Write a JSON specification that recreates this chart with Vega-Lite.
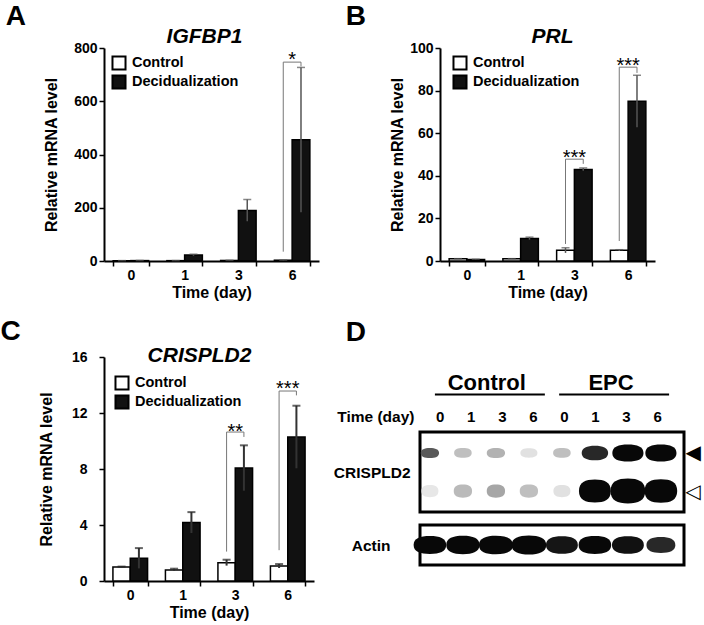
{
  "$schema": "https://vega.github.io/schema/vega-lite/v6.json",
  "background": "white",
  "padding": {"left": 0, "top": 3, "right": 2, "bottom": 2},
  "datasets": {
    "A_bars": [
      {"time": "0", "group": "Control", "mean": 1, "lo": 0.5, "hi": 1.5},
      {"time": "0", "group": "Decidualization", "mean": 1.5, "lo": 1, "hi": 2},
      {"time": "1", "group": "Control", "mean": 1.3, "lo": 1, "hi": 1.6},
      {"time": "1", "group": "Decidualization", "mean": 22.5, "lo": 19.5, "hi": 25.5},
      {"time": "3", "group": "Control", "mean": 2, "lo": 1.5, "hi": 2.5},
      {"time": "3", "group": "Decidualization", "mean": 190, "lo": 149, "hi": 231},
      {"time": "6", "group": "Control", "mean": 3, "lo": 2.5, "hi": 3.5},
      {"time": "6", "group": "Decidualization", "mean": 455, "lo": 183, "hi": 727}
    ],
    "A_brk": [
      {"id": "a6", "k": 1, "time": "6", "group": "Control", "v": 35},
      {"id": "a6", "k": 2, "time": "6", "group": "Control", "v": 747},
      {"id": "a6", "k": 3, "time": "6", "group": "Decidualization", "v": 747},
      {"id": "a6", "k": 4, "time": "6", "group": "Decidualization", "v": 731}
    ],
    "A_star": [{"time": "6", "v": 772, "label": "*"}],
    "B_bars": [
      {"time": "0", "group": "Control", "mean": 1, "lo": 0.9, "hi": 1.1},
      {"time": "0", "group": "Decidualization", "mean": 0.7, "lo": 0.6, "hi": 0.8},
      {"time": "1", "group": "Control", "mean": 1, "lo": 0.9, "hi": 1.1},
      {"time": "1", "group": "Decidualization", "mean": 10.6, "lo": 10, "hi": 11.2},
      {"time": "3", "group": "Control", "mean": 5, "lo": 3.8, "hi": 6.2},
      {"time": "3", "group": "Decidualization", "mean": 43, "lo": 42.4, "hi": 43.7},
      {"time": "6", "group": "Control", "mean": 5, "lo": 4.7, "hi": 5.3},
      {"time": "6", "group": "Decidualization", "mean": 75, "lo": 62.8, "hi": 87.2}
    ],
    "B_brk": [
      {"id": "b3", "k": 1, "time": "3", "group": "Control", "v": 8},
      {"id": "b3", "k": 2, "time": "3", "group": "Control", "v": 47.8},
      {"id": "b3", "k": 3, "time": "3", "group": "Decidualization", "v": 47.8},
      {"id": "b3", "k": 4, "time": "3", "group": "Decidualization", "v": 45.6},
      {"id": "b6", "k": 1, "time": "6", "group": "Control", "v": 9.4},
      {"id": "b6", "k": 2, "time": "6", "group": "Control", "v": 91},
      {"id": "b6", "k": 3, "time": "6", "group": "Decidualization", "v": 91},
      {"id": "b6", "k": 4, "time": "6", "group": "Decidualization", "v": 88.3}
    ],
    "B_star": [
      {"time": "3", "v": 50.8, "label": "***"},
      {"time": "6", "v": 93.8, "label": "***"}
    ],
    "C_bars": [
      {"time": "0", "group": "Control", "mean": 1.0, "lo": 0.97, "hi": 1.03},
      {"time": "0", "group": "Decidualization", "mean": 1.62, "lo": 0.9, "hi": 2.35},
      {"time": "1", "group": "Control", "mean": 0.79, "lo": 0.72, "hi": 0.88},
      {"time": "1", "group": "Decidualization", "mean": 4.17, "lo": 3.43, "hi": 4.92},
      {"time": "3", "group": "Control", "mean": 1.31, "lo": 1.1, "hi": 1.52},
      {"time": "3", "group": "Decidualization", "mean": 8.07, "lo": 6.45, "hi": 9.69},
      {"time": "6", "group": "Control", "mean": 1.07, "lo": 0.93, "hi": 1.21},
      {"time": "6", "group": "Decidualization", "mean": 10.29, "lo": 8.05, "hi": 12.52}
    ],
    "C_brk": [
      {"id": "c3", "k": 1, "time": "3", "group": "Control", "v": 2.1},
      {"id": "c3", "k": 2, "time": "3", "group": "Control", "v": 10.64},
      {"id": "c3", "k": 3, "time": "3", "group": "Decidualization", "v": 10.64},
      {"id": "c3", "k": 4, "time": "3", "group": "Decidualization", "v": 10.29},
      {"id": "c6", "k": 1, "time": "6", "group": "Control", "v": 2.2},
      {"id": "c6", "k": 2, "time": "6", "group": "Control", "v": 13.57},
      {"id": "c6", "k": 3, "time": "6", "group": "Decidualization", "v": 13.57},
      {"id": "c6", "k": 4, "time": "6", "group": "Decidualization", "v": 13.26}
    ],
    "C_star": [
      {"time": "3", "v": 11.0, "label": "**"},
      {"time": "6", "v": 14.1, "label": "***"}
    ],
    "D_groups": [
      {"lane": "C1", "row": "line", "label": "Control"},
      {"lane": "E1", "row": "line", "label": "EPC"}
    ],
    "D_lines": [
      {"start": "C0", "end": "C6", "row": "line"},
      {"start": "E0", "end": "E6", "row": "line"}
    ],
    "D_lanes": [
      {"lane": "C0", "row": "time", "day": "0"},
      {"lane": "C1", "row": "time", "day": "1"},
      {"lane": "C3", "row": "time", "day": "3"},
      {"lane": "C6", "row": "time", "day": "6"},
      {"lane": "E0", "row": "time", "day": "0"},
      {"lane": "E1", "row": "time", "day": "1"},
      {"lane": "E3", "row": "time", "day": "3"},
      {"lane": "E6", "row": "time", "day": "6"}
    ],
    "D_blot": [
      {"lane": "C0", "row": "upper", "signal": 0.62, "spread": 0.05},
      {"lane": "C1", "row": "upper", "signal": 0.2, "spread": 0.02},
      {"lane": "C3", "row": "upper", "signal": 0.25, "spread": 0.05},
      {"lane": "C6", "row": "upper", "signal": 0.07, "spread": 0.0},
      {"lane": "E0", "row": "upper", "signal": 0.2, "spread": 0.02},
      {"lane": "E1", "row": "upper", "signal": 0.85, "spread": 0.45},
      {"lane": "E3", "row": "upper", "signal": 1.0, "spread": 0.75},
      {"lane": "E6", "row": "upper", "signal": 1.0, "spread": 0.75},
      {"lane": "C0", "row": "lower", "signal": 0.05, "spread": 0.0},
      {"lane": "C1", "row": "lower", "signal": 0.22, "spread": 0.05},
      {"lane": "C3", "row": "lower", "signal": 0.3, "spread": 0.05},
      {"lane": "C6", "row": "lower", "signal": 0.2, "spread": 0.05},
      {"lane": "E0", "row": "lower", "signal": 0.07, "spread": 0.0},
      {"lane": "E1", "row": "lower", "signal": 1.0, "spread": 0.8},
      {"lane": "E3", "row": "lower", "signal": 1.0, "spread": 1.0},
      {"lane": "E6", "row": "lower", "signal": 1.0, "spread": 0.85}
    ],
    "D_actin": [
      {"lane": "C0", "row": "actin", "signal": 1.0, "spread": 0.85},
      {"lane": "C1", "row": "actin", "signal": 1.0, "spread": 0.9},
      {"lane": "C3", "row": "actin", "signal": 1.0, "spread": 0.95},
      {"lane": "C6", "row": "actin", "signal": 1.0, "spread": 1.0},
      {"lane": "E0", "row": "actin", "signal": 0.95, "spread": 0.8},
      {"lane": "E1", "row": "actin", "signal": 1.0, "spread": 0.85},
      {"lane": "E3", "row": "actin", "signal": 0.97, "spread": 0.8},
      {"lane": "E6", "row": "actin", "signal": 0.85, "spread": 0.6}
    ],
    "D_arrows": [
      {"row": "upper"},
      {"row": "lower"}
    ]
  },
  "vconcat": [
    {
      "hconcat": [
        {
          "width": 215, "height": 213,
          "title": {"text": "A", "dx": -38, "offset": -6},
          "layer": [
            {
              "data": {"name": "A_bars"},
              "mark": {"type": "bar", "stroke": "black", "strokeWidth": 1.5},
              "encoding": {
                "x": {"field": "time", "type": "nominal", "scale": {"domain": ["0", "1", "3", "6"], "paddingInner": 0.34, "paddingOuter": 0.17}, "axis": {"orient": "bottom", "title": "Time (day)", "labelAngle": 0, "tickBand": "extent", "labelPadding": 2, "titlePadding": 2}},
                "xOffset": {"field": "group", "type": "nominal", "scale": {"domain": ["Control", "Decidualization"], "paddingInner": 0, "paddingOuter": 0}},
                "y": {"field": "mean", "type": "quantitative", "title": "Relative mRNA level", "scale": {"domain": [0, 800], "nice": false}, "axis": {"values": [0, 200, 400, 600, 800], "labelPadding": 2, "titlePadding": 14}},
                "fill": {"field": "group", "type": "nominal", "scale": {"domain": ["Control", "Decidualization"], "range": ["#ffffff", "#111111"]}, "legend": {"title": null, "legendX": 7, "legendY": 7}}
              }
            },
            {
              "data": {"name": "A_bars"},
              "mark": {"type": "rule", "color": "#555555", "strokeWidth": 1.5},
              "encoding": {
                "x": {"field": "time", "type": "nominal", "axis": null},
                "xOffset": {"field": "group", "type": "nominal"},
                "y": {"field": "lo", "type": "quantitative", "title": "Relative mRNA level"},
                "y2": {"field": "hi"}
              }
            },
            {
              "data": {"name": "A_bars"},
              "mark": {"type": "tick", "color": "#555555", "thickness": 1.5, "size": 8, "orient": "horizontal"},
              "encoding": {
                "x": {"field": "time", "type": "nominal", "axis": null},
                "xOffset": {"field": "group", "type": "nominal"},
                "y": {"field": "hi", "type": "quantitative", "title": "Relative mRNA level"}
              }
            },
            {
              "data": {"name": "A_brk"},
              "mark": {"type": "line", "color": "#777777", "strokeWidth": 1},
              "encoding": {
                "x": {"field": "time", "type": "nominal", "axis": null},
                "xOffset": {"field": "group", "type": "nominal"},
                "y": {"field": "v", "type": "quantitative", "title": "Relative mRNA level"},
                "detail": {"field": "id"},
                "order": {"field": "k", "type": "quantitative"}
              }
            },
            {
              "data": {"name": "A_star"},
              "mark": {"type": "text", "fontSize": 20, "baseline": "middle", "dy": 5, "color": "black"},
              "encoding": {
                "x": {"field": "time", "type": "nominal", "axis": {"orient": "top", "labels": false, "ticks": false, "domain": false, "title": "IGFBP1", "titleFontStyle": "italic", "titleFontSize": 21, "titlePadding": 2, "titleX": 100}},
                "y": {"field": "v", "type": "quantitative", "title": "Relative mRNA level"},
                "text": {"field": "label"}
              }
            }
          ],
          "resolve": {"axis": {"x": "independent"}}
        },
        {
          "width": 215, "height": 213,
          "title": {"text": "B", "dx": -44, "offset": -6},
          "layer": [
            {
              "data": {"name": "B_bars"},
              "mark": {"type": "bar", "stroke": "black", "strokeWidth": 1.5},
              "encoding": {
                "x": {"field": "time", "type": "nominal", "scale": {"domain": ["0", "1", "3", "6"], "paddingInner": 0.34, "paddingOuter": 0.17}, "axis": {"orient": "bottom", "title": "Time (day)", "labelAngle": 0, "tickBand": "extent", "labelPadding": 2, "titlePadding": 2}},
                "xOffset": {"field": "group", "type": "nominal", "scale": {"domain": ["Control", "Decidualization"], "paddingInner": 0, "paddingOuter": 0}},
                "y": {"field": "mean", "type": "quantitative", "title": "Relative mRNA level", "scale": {"domain": [0, 100], "nice": false}, "axis": {"values": [0, 20, 40, 60, 80, 100], "labelPadding": 2, "titlePadding": 4}},
                "fill": {"field": "group", "type": "nominal", "scale": {"domain": ["Control", "Decidualization"], "range": ["#ffffff", "#111111"]}, "legend": {"title": null, "legendX": 12, "legendY": 7}}
              }
            },
            {
              "data": {"name": "B_bars"},
              "mark": {"type": "rule", "color": "#555555", "strokeWidth": 1.5},
              "encoding": {
                "x": {"field": "time", "type": "nominal", "axis": null},
                "xOffset": {"field": "group", "type": "nominal"},
                "y": {"field": "lo", "type": "quantitative", "title": "Relative mRNA level"},
                "y2": {"field": "hi"}
              }
            },
            {
              "data": {"name": "B_bars"},
              "mark": {"type": "tick", "color": "#555555", "thickness": 1.5, "size": 8, "orient": "horizontal"},
              "encoding": {
                "x": {"field": "time", "type": "nominal", "axis": null},
                "xOffset": {"field": "group", "type": "nominal"},
                "y": {"field": "hi", "type": "quantitative", "title": "Relative mRNA level"}
              }
            },
            {
              "data": {"name": "B_brk"},
              "mark": {"type": "line", "color": "#777777", "strokeWidth": 1},
              "encoding": {
                "x": {"field": "time", "type": "nominal", "axis": null},
                "xOffset": {"field": "group", "type": "nominal"},
                "y": {"field": "v", "type": "quantitative", "title": "Relative mRNA level"},
                "detail": {"field": "id"},
                "order": {"field": "k", "type": "quantitative"}
              }
            },
            {
              "data": {"name": "B_star"},
              "mark": {"type": "text", "fontSize": 20, "baseline": "middle", "dy": 5, "color": "black"},
              "encoding": {
                "x": {"field": "time", "type": "nominal", "axis": {"orient": "top", "labels": false, "ticks": false, "domain": false, "title": "PRL", "titleFontStyle": "italic", "titleFontSize": 21, "titlePadding": 2, "titleX": 112}},
                "y": {"field": "v", "type": "quantitative", "title": "Relative mRNA level"},
                "text": {"field": "label"}
              }
            }
          ],
          "resolve": {"axis": {"x": "independent"}}
        }
      ],
      "spacing": 26,
      "resolve": {"scale": {"fill": "independent", "xOffset": "independent"}, "legend": {"fill": "independent"}}
    },
    {
      "hconcat": [
        {
          "width": 210, "height": 224,
          "title": {"text": "C", "dx": -38, "offset": -2},
          "layer": [
            {
              "data": {"name": "C_bars"},
              "mark": {"type": "bar", "stroke": "black", "strokeWidth": 1.5},
              "encoding": {
                "x": {"field": "time", "type": "nominal", "scale": {"domain": ["0", "1", "3", "6"], "paddingInner": 0.34, "paddingOuter": 0.17}, "axis": {"orient": "bottom", "title": "Time (day)", "labelAngle": 0, "tickBand": "extent", "labelPadding": 2, "titlePadding": 2}},
                "xOffset": {"field": "group", "type": "nominal", "scale": {"domain": ["Control", "Decidualization"], "paddingInner": 0, "paddingOuter": 0}},
                "y": {"field": "mean", "type": "quantitative", "title": "Relative mRNA level", "scale": {"domain": [0, 16], "nice": false}, "axis": {"values": [0, 4, 8, 12, 16], "labelPadding": 12, "titlePadding": 17}},
                "fill": {"field": "group", "type": "nominal", "scale": {"domain": ["Control", "Decidualization"], "range": ["#ffffff", "#111111"]}, "legend": {"title": null, "legendX": 10, "legendY": 18}}
              }
            },
            {
              "data": {"name": "C_bars"},
              "mark": {"type": "rule", "color": "#333333", "strokeWidth": 2},
              "encoding": {
                "x": {"field": "time", "type": "nominal", "axis": null},
                "xOffset": {"field": "group", "type": "nominal"},
                "y": {"field": "lo", "type": "quantitative", "title": "Relative mRNA level"},
                "y2": {"field": "hi"}
              }
            },
            {
              "data": {"name": "C_bars"},
              "mark": {"type": "tick", "color": "#222222", "thickness": 2, "size": 8, "orient": "horizontal"},
              "encoding": {
                "x": {"field": "time", "type": "nominal", "axis": null},
                "xOffset": {"field": "group", "type": "nominal"},
                "y": {"field": "hi", "type": "quantitative", "title": "Relative mRNA level"}
              }
            },
            {
              "data": {"name": "C_brk"},
              "mark": {"type": "line", "color": "#777777", "strokeWidth": 1},
              "encoding": {
                "x": {"field": "time", "type": "nominal", "axis": null},
                "xOffset": {"field": "group", "type": "nominal"},
                "y": {"field": "v", "type": "quantitative", "title": "Relative mRNA level"},
                "detail": {"field": "id"},
                "order": {"field": "k", "type": "quantitative"}
              }
            },
            {
              "data": {"name": "C_star"},
              "mark": {"type": "text", "fontSize": 20, "baseline": "middle", "dy": 5, "color": "black"},
              "encoding": {
                "x": {"field": "time", "type": "nominal", "axis": {"orient": "top", "labels": false, "ticks": false, "domain": false, "title": "CRISPLD2", "titleFontStyle": "italic", "titleFontSize": 21, "titlePadding": -8, "titleX": 95}},
                "y": {"field": "v", "type": "quantitative", "title": "Relative mRNA level"},
                "text": {"field": "label"}
              }
            }
          ],
          "resolve": {"axis": {"x": "independent"}}
        },
        {
          "vconcat": [
            {
              "width": 264, "height": 67.5,
              "title": {"text": "D", "dx": 9, "offset": 10},
              "layer": [
                {
                  "data": {"name": "D_groups"},
                  "mark": {"type": "text", "fontSize": 22, "fontWeight": "bold", "baseline": "alphabetic", "dy": -4, "color": "black"},
                  "encoding": {
                    "x": {"field": "lane", "type": "nominal", "bandPosition": 1, "scale": {"domain": ["C0", "C1", "C3", "C6", "E0", "E1", "E3", "E6"], "paddingInner": 0, "paddingOuter": 0.25, "align": 0.3}, "axis": null},
                    "y": {"field": "row", "type": "nominal", "scale": {"type": "point", "domain": ["line", "time"], "padding": 1.485, "align": 0.832}, "axis": {"title": null, "ticks": false, "domain": false, "labelExpr": "datum.value == 'time' ? 'Time (day)' : ''", "labelFontSize": 15.5, "labelPadding": 6}},
                    "text": {"field": "label"}
                  }
                },
                {
                  "data": {"name": "D_lines"},
                  "mark": {"type": "rule", "strokeWidth": 2, "color": "black"},
                  "encoding": {
                    "x": {"field": "start", "type": "nominal", "bandPosition": 0.33, "scale": {"domain": ["C0", "C1", "C3", "C6", "E0", "E1", "E3", "E6"], "paddingInner": 0, "paddingOuter": 0.25, "align": 0.3}, "axis": null},
                    "x2": {"field": "end", "bandPosition": 0.87},
                    "y": {"field": "row", "type": "nominal", "scale": {"type": "point", "domain": ["line", "time"], "padding": 1.485, "align": 0.832}}
                  }
                },
                {
                  "data": {"name": "D_lanes"},
                  "mark": {"type": "text", "fontSize": 15, "fontWeight": "bold", "baseline": "middle", "color": "black"},
                  "encoding": {
                    "x": {"field": "lane", "type": "nominal", "scale": {"domain": ["C0", "C1", "C3", "C6", "E0", "E1", "E3", "E6"], "paddingInner": 0, "paddingOuter": 0.25, "align": 0.3}, "axis": null},
                    "y": {"field": "row", "type": "nominal", "scale": {"type": "point", "domain": ["line", "time"], "padding": 1.485, "align": 0.832}},
                    "text": {"field": "day"}
                  }
                }
              ]
            },
            {
              "vconcat": [
                {
                  "width": 264, "height": 80,
                  "view": {"stroke": "black", "strokeWidth": 3},
                  "layer": [
                    {
                      "data": {"name": "D_blot"},
                      "mark": {"type": "point", "filled": true, "opacity": 1, "strokeWidth": 0},
                      "encoding": {
                        "x": {"field": "lane", "type": "nominal", "scale": {"domain": ["C0", "C1", "C3", "C6", "E0", "E1", "E3", "E6"], "paddingInner": 0, "paddingOuter": 0.25, "align": 0.3}, "axis": null},
                        "y": {"field": "row", "type": "nominal", "scale": {"type": "point", "domain": ["upper", "lower"], "padding": 0.55}, "axis": {"orient": "left", "labels": false, "ticks": false, "domain": false, "title": "CRISPLD2", "titleAngle": 0, "titleAlign": "right", "titleBaseline": "middle", "titlePadding": 10, "titleFontSize": 15.5}},
                        "fill": {"field": "signal", "type": "quantitative", "scale": {"domain": [0, 1], "range": ["#f4f4f4", "#080808"]}, "legend": null},
                        "size": {"field": "spread", "type": "quantitative", "scale": {"domain": [0, 1], "range": [290, 1200]}, "legend": null},
                        "shape": {"field": "row", "type": "nominal", "scale": {"domain": ["upper", "lower", "actin"], "range": ["M-1,0C-1,-0.4 -0.6,-0.55 0,-0.55C0.6,-0.55 1,-0.4 1,0C1,0.4 0.6,0.55 0,0.55C-0.6,0.55 -1,0.4 -1,0Z", "M-1,0C-1,-0.55 -0.6,-0.72 0,-0.72C0.6,-0.72 1,-0.55 1,0C1,0.55 0.6,0.72 0,0.72C-0.6,0.72 -1,0.55 -1,0Z", "M-1,0C-1,-0.4 -0.6,-0.55 0,-0.55C0.6,-0.55 1,-0.4 1,0C1,0.4 0.6,0.55 0,0.55C-0.6,0.55 -1,0.4 -1,0Z"]}, "legend": null}
                      }
                    },
                    {
                      "data": {"name": "D_arrows"},
                      "mark": {"type": "text", "text": ""},
                      "encoding": {
                        "y": {"field": "row", "type": "nominal", "scale": {"type": "point", "domain": ["upper", "lower"], "padding": 0.55}, "axis": {"orient": "right", "title": null, "ticks": false, "domain": false, "labelExpr": "datum.value == 'upper' ? '◀' : '◁'", "labelFont": "DejaVu Sans", "labelFontWeight": "normal", "labelFontSize": 20, "labelColor": "black", "labelPadding": 1}}
                      }
                    }
                  ],
                  "resolve": {"axis": {"y": "independent"}}
                },
                {
                  "width": 264, "height": 40,
                  "view": {"stroke": "black", "strokeWidth": 3},
                  "data": {"name": "D_actin"},
                  "mark": {"type": "point", "filled": true, "opacity": 1, "strokeWidth": 0},
                  "encoding": {
                    "x": {"field": "lane", "type": "nominal", "scale": {"domain": ["C0", "C1", "C3", "C6", "E0", "E1", "E3", "E6"], "paddingInner": 0, "paddingOuter": 0.25, "align": 0.3}, "axis": null},
                    "y": {"field": "row", "type": "nominal", "scale": {"type": "point", "domain": ["actin"], "padding": 0.5}, "axis": {"title": null, "ticks": false, "domain": false, "labelExpr": "'Actin'", "labelFontSize": 15.5, "labelPadding": 30}},
                    "fill": {"field": "signal", "type": "quantitative", "scale": {"domain": [0, 1], "range": ["#f4f4f4", "#080808"]}, "legend": null},
                    "size": {"field": "spread", "type": "quantitative", "scale": {"domain": [0, 1], "range": [290, 1200]}, "legend": null},
                    "shape": {"field": "row", "type": "nominal", "scale": {"domain": ["upper", "lower", "actin"], "range": ["M-1,0C-1,-0.4 -0.6,-0.55 0,-0.55C0.6,-0.55 1,-0.4 1,0C1,0.4 0.6,0.55 0,0.55C-0.6,0.55 -1,0.4 -1,0Z", "M-1,0C-1,-0.55 -0.6,-0.72 0,-0.72C0.6,-0.72 1,-0.55 1,0C1,0.55 0.6,0.72 0,0.72C-0.6,0.72 -1,0.55 -1,0Z", "M-1,0C-1,-0.4 -0.6,-0.55 0,-0.55C0.6,-0.55 1,-0.4 1,0C1,0.4 0.6,0.55 0,0.55C-0.6,0.55 -1,0.4 -1,0Z"]}, "legend": null}
                  }
                }
              ],
              "spacing": 9
            }
          ],
          "spacing": 4
        }
      ],
      "spacing": 17,
      "resolve": {"scale": {"fill": "independent", "xOffset": "independent", "size": "independent", "shape": "independent"}, "legend": {"fill": "independent"}}
    }
  ],
  "spacing": 18,
  "resolve": {"scale": {"fill": "independent", "xOffset": "independent", "size": "independent", "shape": "independent"}, "legend": {"fill": "independent"}},
  "config": {
    "font": "Liberation Sans",
    "view": {"stroke": null},
    "axis": {
      "grid": false,
      "domainColor": "black", "domainWidth": 2,
      "tickColor": "black", "tickWidth": 1.5, "tickSize": 5,
      "labelFont": "Liberation Sans", "labelFontWeight": "bold", "labelFontSize": 14, "labelColor": "black",
      "titleFont": "Liberation Sans", "titleFontWeight": "bold", "titleFontSize": 16, "titleColor": "black"
    },
    "title": {"font": "Liberation Sans", "fontWeight": "bold", "fontSize": 28, "color": "black", "anchor": "start", "frame": "bounds", "baseline": "alphabetic"},
    "legend": {
      "orient": "none", "padding": 0,
      "symbolType": "square", "symbolSize": 170, "symbolStrokeColor": "black", "symbolStrokeWidth": 2,
      "labelFont": "Liberation Sans", "labelFontSize": 14.5, "labelFontWeight": "bold", "labelColor": "black",
      "labelOffset": 5, "rowPadding": -4
    }
  }
}
